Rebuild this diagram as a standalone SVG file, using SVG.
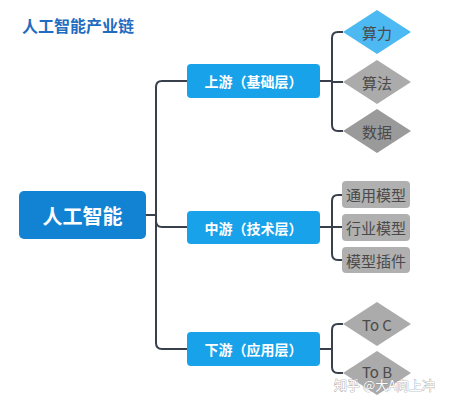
<svg xmlns="http://www.w3.org/2000/svg" width="450" height="400" viewBox="0 0 450 400">
<style>
.t{font-family:"Noto Sans CJK SC","Liberation Sans",sans-serif;}
.lvl{fill:#18a2ea;}
.lt{fill:#ffffff;font-size:14px;font-weight:bold;text-anchor:middle;dominant-baseline:central;}
.it{fill:#4a4a4a;font-size:15px;text-anchor:middle;dominant-baseline:central;}
.con{fill:none;stroke:#3a404b;stroke-width:2;}
.gray{fill:#b0b0b0;}
</style>
<rect width="450" height="400" fill="#ffffff"/>
<text class="t" x="22" y="25" font-size="16" font-weight="bold" fill="#1f6cc0" dominant-baseline="central">人工智能产业链</text>
<g id="connectors">
<path class="con" d="M146 215 H156"/>
<path class="con" d="M187 81 H162 Q156 81 156 87 V343 Q156 349 162 349 H187"/>
<path class="con" d="M156 221 Q156 227 162 227 H187"/>
<path class="con" d="M320 81 H332"/>
<path class="con" d="M343 32 H338 Q332 32 332 38 V125 Q332 131 338 131 H343"/>
<path class="con" d="M332 82 H343"/>
<path class="con" d="M320 227 H342"/>
<path class="con" d="M342 195 H338 Q332 195 332 201 V254 Q332 260 338 260 H342"/>
<path class="con" d="M320 349 H332"/>
<path class="con" d="M343 324 H338 Q332 324 332 330 V367 Q332 373 338 373 H343"/>
</g>
<g id="root">
<rect x="19" y="191" width="127" height="48" rx="5" fill="#1283d3"/>
<text class="t" x="82.5" y="215" fill="#ffffff" font-size="20" font-weight="bold" text-anchor="middle" dominant-baseline="central">人工智能</text>
</g>
<g id="upstream">
<rect class="lvl" x="187" y="64" width="133" height="34" rx="4"/>
<text class="t lt" x="253.5" y="81">上游（基础层）</text>
</g>
<g id="midstream">
<rect class="lvl" x="187" y="211" width="133" height="33" rx="4"/>
<text class="t lt" x="253.5" y="227.5">中游（技术层）</text>
</g>
<g id="downstream">
<rect class="lvl" x="187" y="332" width="133" height="34" rx="4"/>
<text class="t lt" x="253.5" y="349">下游（应用层）</text>
</g>
<g id="compute">
<polygon points="343,32 377,10 411,32 377,54" fill="#4cb9f2"/>
<text class="t it" x="377" y="32">算力</text>
</g>
<g id="algorithm">
<polygon points="343,82 377,60 411,82 377,104" fill="#ababab"/>
<text class="t it" x="377" y="82">算法</text>
</g>
<g id="data">
<polygon points="343,131 377,109 411,131 377,153" fill="#9a9a9a"/>
<text class="t it" x="377" y="131">数据</text>
</g>
<g id="general">
<rect class="gray" x="342" y="181" width="68" height="27" rx="4"/>
<text class="t it" x="376" y="194.5">通用模型</text>
</g>
<g id="industry">
<rect class="gray" x="342" y="214" width="68" height="27" rx="4"/>
<text class="t it" x="376" y="227.5">行业模型</text>
</g>
<g id="plugin">
<rect class="gray" x="342" y="247" width="68" height="26" rx="4"/>
<text class="t it" x="376" y="260">模型插件</text>
</g>
<g id="toc">
<polygon points="343,324 377,302 411,324 377,346" fill="#ababab"/>
<text class="t it" x="377" y="324">To C</text>
</g>
<g id="tob">
<polygon points="343,373 377,351 411,373 377,395" fill="#ababab"/>
<text class="t it" x="377" y="371">To B</text>
</g>
<text class="t" x="334" y="384" font-size="13" fill="#ffffff" stroke="#8a8a8a" stroke-width="0.6" paint-order="stroke" dominant-baseline="central">知乎 @大A向上冲</text>
</svg>
